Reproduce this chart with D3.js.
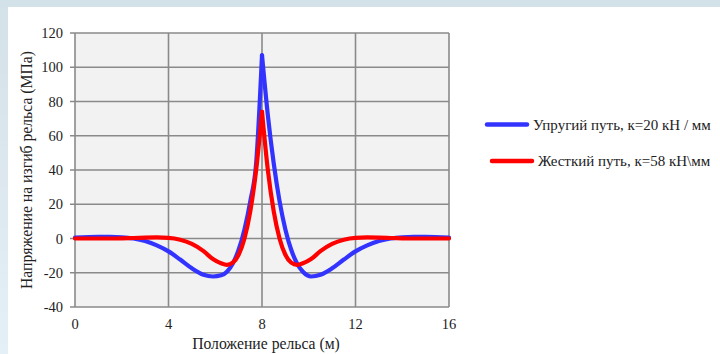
<!DOCTYPE html>
<html lang="ru">
<head>
    <meta charset="UTF-8">
    <script src="https://d3js.org/d3.v7.min.js"></script>
    <style>
        body { margin: 0; background: #ffffff; }
        svg { display: block; }
    </style>
</head>
<body>
    <svg id="canvas" width="720" height="354"></svg>

    <script>
        // x positions (m) and stress values (MPa)
        const xs = [0, 1, 1.5, 2, 2.5, 3, 3.5, 4, 4.5, 5, 5.5, 5.9, 6.25, 6.5, 6.75, 7, 7.25, 7.5, 7.75, 8,
                    8.25, 8.5, 8.75, 9, 9.25, 9.5, 9.75, 10.1, 10.5, 11, 11.5, 12, 12.5, 13, 13.5, 14, 14.5, 15, 16];
        const elastic = [0.5, 0.9, 0.9, 0.7, 0, -1.5, -4, -7.5, -12.3, -17.4, -21.2, -22.2, -21.5, -19.4, -14.6, -6.6, 5.3, 21.9, 44, 107,
                         72, 44, 21.9, 5.3, -6.6, -14.6, -19.4, -22.2, -21.2, -17.4, -12.3, -7.5, -4, -1.5, 0, 0.7, 0.9, 0.9, 0.5];
        const rigid = [0, 0, 0, 0.1, 0.3, 0.5, 0.6, 0.4, -0.7, -3.2, -7.4, -12.0, -14.5, -15.4, -14.1, -9.5, 0, 16, 40, 74,
                       40, 16, 0, -9.5, -14.1, -15.4, -14.5, -12.0, -7.4, -3.2, -0.7, 0.4, 0.6, 0.5, 0.3, 0.1, 0, 0, 0];

        const seriesNames = ["Упругий путь, к=20 кН / мм", "Жесткий путь, к=58 кН\\мм"];
        const seriesColors = ["#3333ff", "#ff0000"];
        const xTicks = [0, 4, 8, 12, 16];
        const yTicks = [-40, -20, 0, 20, 40, 60, 80, 100, 120];

        const serif = "'Liberation Serif', 'Times New Roman', 'DejaVu Serif', serif";

        const svg = d3.select("#canvas")
            .attr("font-family", serif);

        // light bluish strips of the slide around the white panel
        const grad = svg.append("defs").append("linearGradient")
            .attr("id", "bg").attr("x1", 0).attr("y1", 0).attr("x2", 0).attr("y2", 1);
        grad.append("stop").attr("offset", "0%").attr("stop-color", "#d3e1e8");
        grad.append("stop").attr("offset", "50%").attr("stop-color", "#dce8ee");
        grad.append("stop").attr("offset", "100%").attr("stop-color", "#e3f1f7");
        svg.append("rect").attr("width", 720).attr("height", 354).attr("fill", "url(#bg)");
        svg.append("rect").attr("x", 8).attr("y", 7).attr("width", 712).attr("height", 347).attr("fill", "#ffffff");

        const margins = { left: 75, top: 33, right: 271, bottom: 47 };
        const w = 720 - margins.left - margins.right;
        const h = 354 - margins.top - margins.bottom;

        const g = svg.append("g").attr("transform", `translate(${margins.left},${margins.top})`);

        const xScale = d3.scaleLinear().domain([0, 16]).range([0, w]);
        const yScale = d3.scaleLinear().domain([-40, 120]).range([h, 0]);

        g.append("rect").attr("width", w).attr("height", h).attr("fill", "#f2f2f2");

        // grid
        g.append("g").selectAll("line").data(yTicks).join("line")
            .attr("x1", -5).attr("x2", w)
            .attr("y1", d => yScale(d)).attr("y2", d => yScale(d))
            .attr("stroke", "#8a8a8a").attr("stroke-width", 1.6);
        g.append("g").selectAll("line").data(xTicks).join("line")
            .attr("x1", d => xScale(d)).attr("x2", d => xScale(d))
            .attr("y1", 0).attr("y2", h)
            .attr("stroke", "#8a8a8a").attr("stroke-width", 1.6);

        // tick labels
        g.append("g").selectAll("text").data(yTicks).join("text")
            .attr("x", -12).attr("y", d => yScale(d)).attr("dy", "0.35em")
            .attr("text-anchor", "end").attr("font-size", 14.5).attr("fill", "#222").text(d => d);
        g.append("g").selectAll("text").data(xTicks).join("text")
            .attr("x", d => xScale(d)).attr("y", h + 22)
            .attr("text-anchor", "middle").attr("font-size", 14.5).attr("fill", "#222").text(d => d);

        // axis titles
        svg.append("text").attr("x", margins.left + w / 2 + 4).attr("y", 349)
            .attr("text-anchor", "middle").attr("font-size", 15.7).attr("fill", "#222")
            .text("Положение рельса (м)");
        svg.append("text").attr("transform", "translate(32,170) rotate(-90)")
            .attr("text-anchor", "middle").attr("font-size", 15.7).attr("fill", "#222")
            .text("Напряжение на изгиб рельса (МПа)");

        // curves: each side of the peak drawn separately so the peak stays sharp
        const line = d3.line()
            .x(d => xScale(d[0])).y(d => yScale(d[1]))
            .curve(d3.curveMonotoneX);

        [elastic, rigid].forEach((vals, i) => {
            const pts = xs.map((x, k) => [x, vals[k]]);
            const left = pts.filter(p => p[0] <= 8);
            const right = pts.filter(p => p[0] >= 8);
            [left, right].forEach(part => {
                g.append("path").attr("d", line(part))
                    .attr("fill", "none").attr("stroke", seriesColors[i])
                    .attr("stroke-width", 4.2).attr("stroke-linejoin", "round").attr("stroke-linecap", "round");
            });
        });

        // legend
        const legendY = [124.5, 161];
        const legendX = [487, 492];
        const legend = svg.append("g");
        seriesNames.forEach((name, i) => {
            legend.append("line")
                .attr("x1", legendX[i]).attr("x2", legendX[i] + 40)
                .attr("y1", legendY[i]).attr("y2", legendY[i])
                .attr("stroke", seriesColors[i]).attr("stroke-width", 4.5).attr("stroke-linecap", "round");
            legend.append("text")
                .attr("x", legendX[i] + 46).attr("y", legendY[i]).attr("dy", "0.35em")
                .attr("font-size", 15).attr("fill", "#222").text(name);
        });
    </script>
</body>
</html>
